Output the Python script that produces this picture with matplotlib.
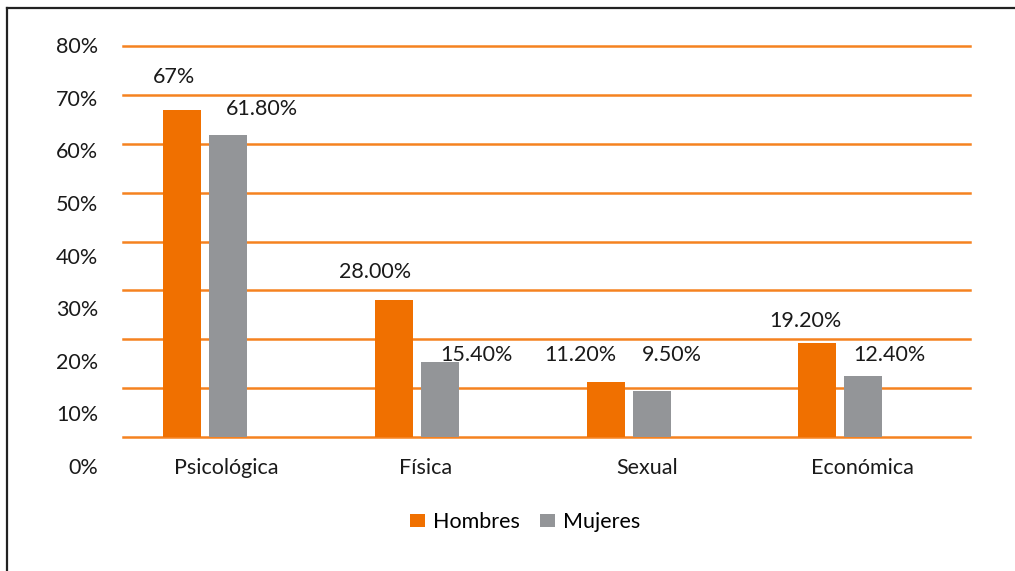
import numpy as np
import matplotlib
matplotlib.use("Agg")
import matplotlib.pyplot as plt
from matplotlib.lines import Line2D

# data
categories = ["Psicológica", "Física", "Sexual", "Económica"]
hombres = [67.0, 28.0, 11.2, 19.2]
mujeres = [61.8, 15.4, 9.5, 12.4]
hombres_lbl = ["67%", "28.00%", "11.20%", "19.20%"]
mujeres_lbl = ["61.80%", "15.40%", "9.50%", "12.40%"]
ytick_labels = ["0%", "10%", "20%", "30%", "40%", "50%", "60%", "70%", "80%"]

plt.rcParams["font.family"] = ["Lato", "DejaVu Sans"]

W, H = 1015, 571
fig = plt.figure(figsize=(W / 100, H / 100), dpi=100)
ax_l, ax_r, ax_t, ax_b = 123, 970, 46, 437
ax = fig.add_axes([ax_l / W, 1 - ax_b / H, (ax_r - ax_l) / W, (ax_b - ax_t) / H])

orange = "#F07000"
gray = "#939598"
grid_c = "#F58220"

ax.set_xlim(-0.5, 3.5)
ax.set_ylim(0, 80)
for v in range(0, 90, 10):
    ax.axhline(v, color=grid_c, lw=1.8, zorder=1, clip_on=False)

x = np.arange(len(categories))
slot = (ax_r - ax_l) / 4.0
w = 38 / slot
xo = x - 0.5 + 59 / slot
xg = x - 0.5 + 105 / slot
ax.bar(xo, hombres, width=w, color=orange, zorder=2, label="Hombres")
ax.bar(xg, mujeres, width=w, color=gray, zorder=2, label="Mujeres")

for s in ax.spines.values():
    s.set_visible(False)
ax.set_xticks([])
ax.set_yticks([])

fs = 15.5
tc = "#1a1a1a"

def px2y(py):
    return (ax_b - py) / (ax_b - ax_t) * 80

# y labels (offset from the gridlines, as in the original)
for k, lab in enumerate(ytick_labels):
    ax.text(-0.029, px2y(468 - 52.6 * k), lab, transform=ax.get_yaxis_transform(),
            ha="right", va="center", fontsize=fs, color=tc, clip_on=False)

# category labels
cat_dx = [-0.014, -0.07, -0.024, -0.01]
for i, c in enumerate(categories):
    ax.text(x[i] + cat_dx[i], px2y(468), c, ha="center", va="center",
            fontsize=fs, color=tc, clip_on=False)

# value labels: (x shift in pixels from bar center, text y in pixels)
h_pos = [(-8, 77), (-19, 272), (-25, 355), (-12, 321)]
m_pos = [(34, 109), (37, 355), (20, 355), (26, 355)]
for i in range(len(categories)):
    dx, py = h_pos[i]
    ax.text(xo[i] + dx / slot, px2y(py), hombres_lbl[i], ha="center", va="center",
            fontsize=fs, color=tc, clip_on=False)
    dx, py = m_pos[i]
    ax.text(xg[i] + dx / slot, px2y(py), mujeres_lbl[i], ha="center", va="center",
            fontsize=fs, color=tc, clip_on=False)

fig.legend(loc="center", bbox_to_anchor=(525 / W, 1 - 522 / H), ncol=2, frameon=False,
           fontsize=fs, handlelength=0.7, handleheight=0.6, handletextpad=0.4,
           columnspacing=0.9)

# outer frame (top and left edges)
fig.add_artist(Line2D([7 / W, 1], [1 - 8 / H, 1 - 8 / H], color="#222222", lw=1.6,
                      transform=fig.transFigure))
fig.add_artist(Line2D([7 / W, 7 / W], [0, 1 - 8 / H], color="#222222", lw=1.6,
                      transform=fig.transFigure))

fig.savefig("out.png", dpi=100)
